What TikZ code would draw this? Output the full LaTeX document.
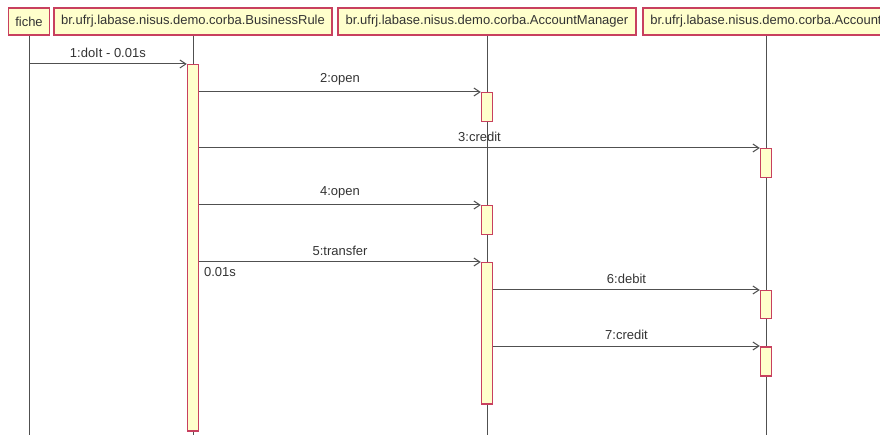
\documentclass[tikz,border=0pt]{standalone}
\usepackage{fontspec}
\setmainfont{Liberation Sans}
\usetikzlibrary{arrows.meta,positioning}
\definecolor{NoteFill}{HTML}{FFFFCC}
\definecolor{NoteRim}{HTML}{C8405F}
\definecolor{LineGrey}{HTML}{505050}
\tikzset{
    head/.style = {draw=NoteRim, fill=NoteFill, line width=1.5pt, rectangle,
        minimum height=27pt, inner sep=0pt,
        font=\fontsize{13}{15}\selectfont, text=black!80},
    life/.style = {draw=LineGrey, line width=1pt},
    bar/.style = {draw=NoteRim, fill=NoteFill, line width=1.5pt, rectangle,
        minimum width=11pt, inner sep=0pt, anchor=north},
    msg/.style = {draw=LineGrey, line width=1pt, -{Straight Barb[length=6pt,width=8pt]}},
    lbl/.style = {font=\fontsize{13}{15}\selectfont, text=black!80}
}

\begin{document}
\begin{tikzpicture}[x=1pt,y=-1pt]
    \useasboundingbox (0,0) rectangle (880,435);
    \clip (0,0) rectangle (880,435);
    % object heads
    \node [head, minimum width=41pt] (fiche) at (29,21.5) {fiche};
    \node [head, minimum width=278pt] (rule) at (193,21.5) {br.ufrj.labase.nisus.demo.corba.BusinessRule};
    \node [head, minimum width=298pt] (manager) at (487,21.5) {br.ufrj.labase.nisus.demo.corba.AccountManager};
    \node [head, minimum width=246pt] (account) at (766,21.5) {br.ufrj.labase.nisus.demo.corba.Account};
    % lifelines
    \coordinate (bottom) at (0,440);
    \draw [life] (fiche.south) -- (fiche.south |- bottom);
    \draw [life] (rule.south) -- (rule.south |- bottom);
    \draw [life] (manager.south) -- (manager.south |- bottom);
    \draw [life] (account.south) -- (account.south |- bottom);
    % activations
    \node [bar, minimum height=366pt] (r1) at (193,64) {};
    \node [bar, minimum height=29pt] (m1) at (487,92) {};
    \node [bar, minimum height=29pt] (a1) at (766,148) {};
    \node [bar, minimum height=29pt] (m2) at (487,205) {};
    \node [bar, minimum height=141pt] (m3) at (487,262) {};
    \node [bar, minimum height=28pt] (a2) at (766,290) {};
    \node [bar, minimum height=29pt] (a3) at (766,346) {};
    % messages
    \draw [msg] (fiche.south |- r1.north) -- node [lbl, above=3pt] {1:doIt - 0.01s} (r1.north west);
    \draw [msg] (r1.east |- m1.north) -- node [lbl, above=3pt] {2:open} (m1.north west);
    \draw [msg] (r1.east |- a1.north) -- node [lbl, above=3pt] {3:credit} (a1.north west);
    \draw [msg] (r1.east |- m2.north) -- node [lbl, above=3pt] {4:open} (m2.north west);
    \draw [msg] (r1.east |- m3.north) node [lbl, below right=2pt and 1pt] {0.01s}
        -- node [lbl, above=3pt] {5:transfer} (m3.north west);
    \draw [msg] (m3.east |- a2.north) -- node [lbl, above=3pt] {6:debit} (a2.north west);
    \draw [msg] (m3.east |- a3.north) -- node [lbl, above=3pt] {7:credit} (a3.north west);
\end{tikzpicture}
\end{document}
